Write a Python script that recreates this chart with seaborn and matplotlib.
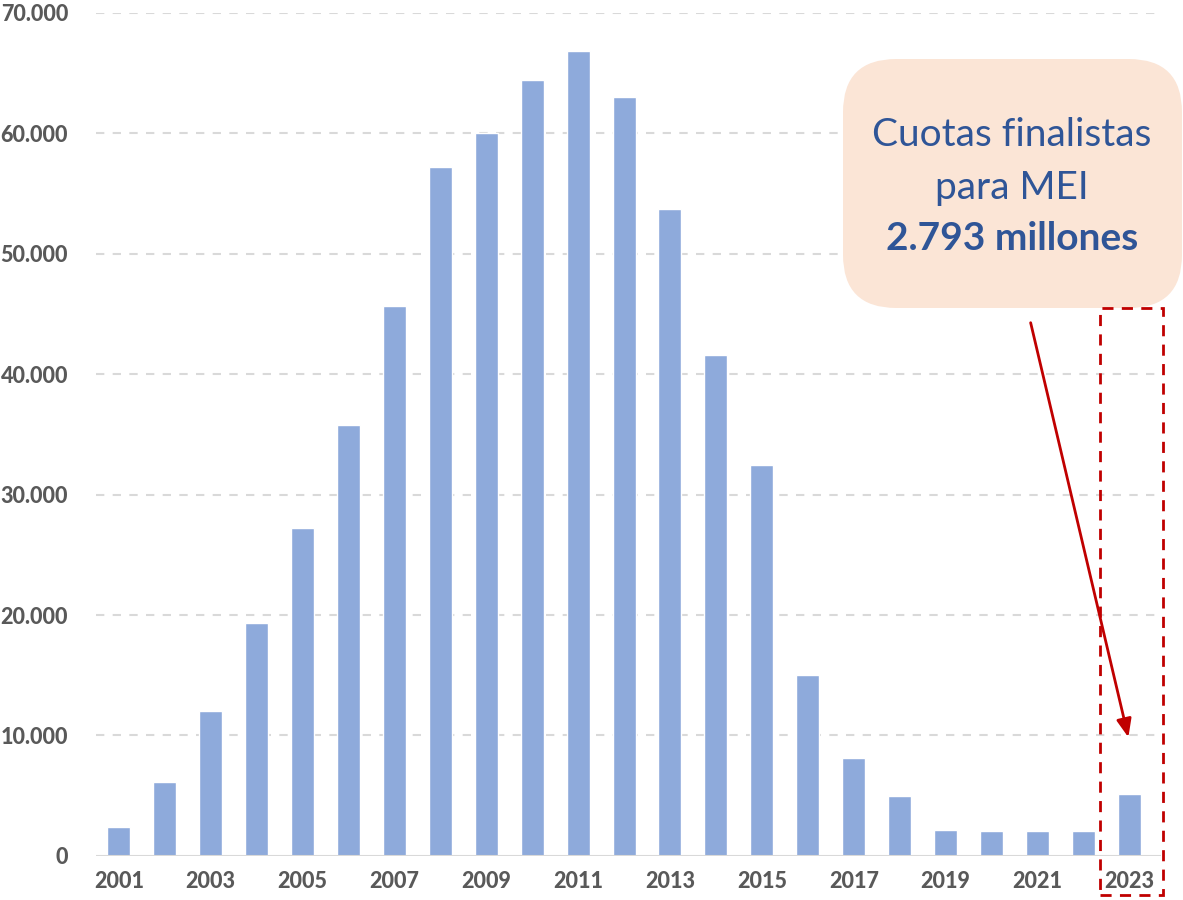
import numpy as np
import pandas as pd
import matplotlib.pyplot as plt
import seaborn as sns
from matplotlib.patches import FancyBboxPatch, Rectangle

sns.set_style("white")
plt.rcParams["font.family"] = ["Lato", "DejaVu Sans"]

years = [str(y) for y in range(2001, 2024)]
cuotas = [2400, 6100, 12000, 19300, 27200, 35800, 45700, 57200, 60000, 64400,
          66800, 63000, 53700, 41600, 32500, 15000, 8100, 5000, 2150, 2100,
          2100, 2100, 5100]
y_ticks = [0, 10000, 20000, 30000, 40000, 50000, 60000, 70000]
x_labels = [y if int(y) % 2 == 1 else "" for y in years]

df = pd.DataFrame({"year": years, "cuotas": cuotas})

fig = plt.figure(figsize=(11.83, 9), dpi=100)
ax = fig.add_axes([0.081, 0.049, 0.9, 0.9366])

sns.barplot(data=df, x="year", y="cuotas", color="#8EAADB", width=0.5,
            saturation=1, ax=ax, zorder=3)

ax.set_ylim(0, 70000)
ax.set_xlim(-0.5, 22.68)
ax.set_yticks(y_ticks)
ax.set_yticklabels([f"{v:,}".replace(",", ".") for v in y_ticks])
ax.set_xticks(range(len(years)))
ax.set_xticklabels(x_labels)
ax.set_xlabel("")
ax.set_ylabel("")
for lbl in ax.get_xticklabels() + ax.get_yticklabels():
    lbl.set_fontweight("black")
    lbl.set_color("#595959")
    lbl.set_fontsize(15.5)
ax.tick_params(axis="both", length=0)
ax.tick_params(axis="y", pad=20)
ax.tick_params(axis="x", pad=11)

for v in y_ticks[1:]:
    ax.axhline(v, color="#D9D9D9", linestyle=(0, (4, 4)), linewidth=1.5, zorder=1)
ax.axhline(0, color="#D9D9D9", linewidth=1.5, zorder=4)
sns.despine(ax=ax, left=True, bottom=True)

# callout box
box = FancyBboxPatch((843 / 1183, 1 - 308 / 900), 339 / 1183, 249 / 900,
                     boxstyle="round,pad=0,rounding_size=0.045",
                     transform=fig.transFigure, facecolor="#FBE5D6",
                     edgecolor="none", zorder=5, mutation_aspect=1183 / 900)
fig.patches.append(box)
tx = 1012 / 1183
for txt, yy, fw in [("Cuotas finalistas", 135, "normal"),
                    ("para MEI", 188, "normal"),
                    ("2.793 millones", 238, "bold")]:
    fig.text(tx, 1 - yy / 900, txt, ha="center", va="center", fontsize=28,
             color="#2F5597", fontweight=fw, zorder=8)

# dashed highlight on 2023
rect = Rectangle((1100 / 1183, 1 - 895 / 900), 63 / 1183, 587 / 900,
                 transform=fig.transFigure, fill=False, edgecolor="#C00000",
                 linestyle=(0, (4, 3)), linewidth=2, zorder=6)
fig.patches.append(rect)

ax.annotate("", xy=(1129 / 1183, 1 - 740 / 900), xycoords="figure fraction",
            xytext=(1030 / 1183, 1 - 320 / 900), textcoords="figure fraction",
            arrowprops=dict(arrowstyle="-|>,head_length=1.1,head_width=0.45",
                            color="#C00000", lw=2), zorder=7)

fig.savefig("out.png", dpi=100)
